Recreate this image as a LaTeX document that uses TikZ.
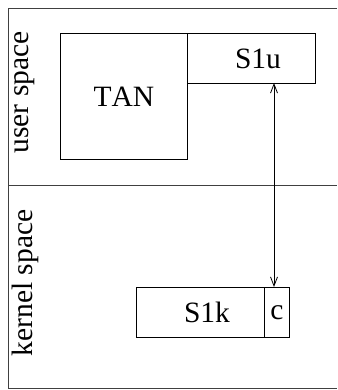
\documentclass[tikz,border=0pt]{standalone}
\usepackage{fontspec}
\setmainfont{Liberation Serif}[Kerning=Off]
\usetikzlibrary{arrows.meta}
\begin{document}
\begin{tikzpicture}[x=1pt,y=-1pt,line width=0.9pt,
  lbl/.style={font=\fontsize{29.5}{30}\selectfont, inner sep=0pt},
  boxn/.style={draw, inner sep=0pt, anchor=north west},
  conn/.style={line width=0.8pt, {Straight Barb[length=9pt,width=7pt]}-{Straight Barb[length=9pt,width=7pt]}}]
\useasboundingbox (0,0) rectangle (337,390);
% frame
\draw[draw=black!75] (337,8.5) -- (8.5,8.5) -- (8.5,388) -- (337,388);
\draw[draw=black!75] (8.5,185) -- (337,185);
% side labels
\node[lbl, rotate=90] (us) at (25,92.5) {user space};
\node[lbl, rotate=90] (ks) at (25,283) {kernel space};
% boxes
\node[boxn, minimum width=127pt, minimum height=126pt] (tan) at (60,33) {};
\node[lbl] at (tan.center) {TAN};
\node[boxn, minimum width=128pt, minimum height=50pt] (s1u) at (187,33) {};
\node[lbl] at ([xshift=6.5pt]s1u.center) {S1u};
\node[boxn, minimum width=128pt, minimum height=50pt] (s1k) at (136,287) {};
\node[lbl] at ([xshift=6.5pt]s1k.center) {S1k};
\node[boxn, minimum width=25pt, minimum height=50pt] (c) at (264,287) {};
\node[lbl] at (c.center) {c};
% connector
\coordinate (a1) at (274,83);
\coordinate (a2) at (274,287);
\draw[conn] (a1) -- (a2);
\end{tikzpicture}
\end{document}
